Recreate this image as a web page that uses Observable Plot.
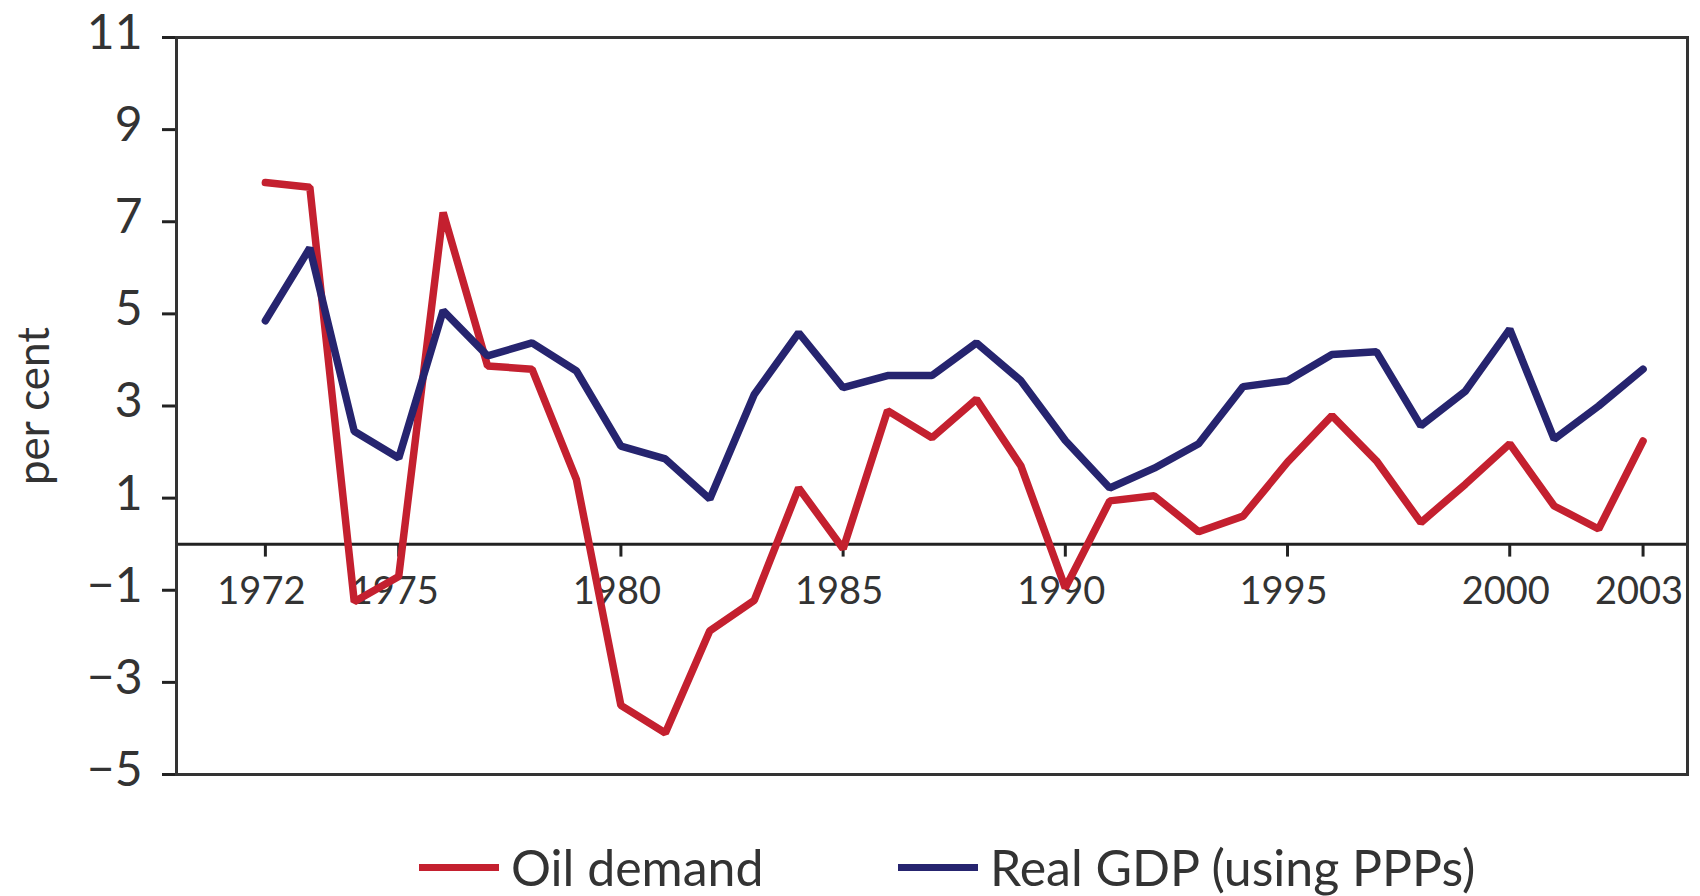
<!DOCTYPE html>
<html><head><meta charset="utf-8">
<script src="https://cdn.jsdelivr.net/npm/d3@7"></script>
<script src="https://cdn.jsdelivr.net/npm/@observablehq/plot@0.6"></script>
<style>
body{margin:0;background:#fff;font-family:Lato,"Open Sans",sans-serif;}
#wrap{position:relative;width:1700px;height:896px;overflow:hidden;background:#fff;}
#chart{position:absolute;left:0;top:0;}
.item{position:absolute;top:838px;height:58px;display:flex;align-items:center;font-size:50px;color:#333;white-space:nowrap;}
.sw{width:80px;height:7px;margin-right:12px;}
</style></head><body>
<div id="wrap"><div id="chart"></div><div id="legend"></div></div>
<script>
const years = [1972,1973,1974,1975,1976,1977,1978,1979,1980,1981,1982,1983,1984,1985,1986,1987,1988,1989,1990,1991,1992,1993,1994,1995,1996,1997,1998,1999,2000,2001,2002,2003];
const oilDemand = [7.85,7.75,-1.25,-0.7,7.2,3.87,3.8,1.4,-3.5,-4.1,-1.88,-1.22,1.22,-0.1,2.9,2.31,3.15,1.7,-0.95,0.94,1.05,0.27,0.61,1.78,2.79,1.81,0.47,1.3,2.18,0.83,0.33,2.24];
const realGDP = [4.85,6.43,2.45,1.87,5.07,4.09,4.37,3.76,2.13,1.85,0.98,3.25,4.59,3.4,3.66,3.66,4.37,3.55,2.25,1.22,1.65,2.18,3.42,3.55,4.12,4.18,2.57,3.32,4.67,2.28,3.0,3.8];
const seriesNames = ["Oil demand","Real GDP (using PPPs)"];
const seriesColors = ["#c4202f","#26246f"];
const xTicks = [1972,1975,1980,1985,1990,1995,2000,2003];
const yTicks = [-5,-3,-1,1,3,5,7,9,11];
const yLabel = "per cent";

const rows = years.flatMap((yr,i)=>[
  {year:yr,value:oilDemand[i],series:seriesNames[0]},
  {year:yr,value:realGDP[i],series:seriesNames[1]}
]);
const fmt = d => d < 0 ? "\u2212" + Math.abs(d) : String(d);

const chart = Plot.plot({
  width:1700, height:830,
  marginLeft:176, marginRight:13, marginTop:37, marginBottom:56,
  style:{fontFamily:"Lato, 'Open Sans', sans-serif", background:"#fff", overflow:"visible"},
  x:{domain:[1970,2004], axis:null},
  y:{domain:[-5,11]},
  color:{domain:seriesNames, range:seriesColors},
  marks:[
    Plot.ruleY([0],{stroke:"#222",strokeWidth:3}),
    Plot.ruleX(xTicks,{x:d=>d,y1:0,y2:-0.28,stroke:"#222",strokeWidth:3}),
    Plot.text(xTicks,{x:d=>d,y:0,dy:48,dx:-4,text:d=>String(d),fontSize:38,fill:"#333"}),
    Plot.axisY(yTicks,{tickSize:14,fill:"none",stroke:"#222",strokeWidth:3,label:null}),
    Plot.axisY(yTicks,{tickSize:14,tickPadding:20,stroke:"none",fill:"#333",fontSize:48,dy:-4,tickFormat:fmt,label:null}),
    Plot.text([yLabel],{frameAnchor:"left",dx:-142,rotate:-90,textAnchor:"middle",fontSize:44,fill:"#333"}),
    Plot.line(rows.filter(d=>d.series===seriesNames[0]),{x:"year",y:"value",stroke:"series",strokeWidth:7.5,strokeLinejoin:"miter"}),
    Plot.line(rows.filter(d=>d.series===seriesNames[1]),{x:"year",y:"value",stroke:"series",strokeWidth:7.5,strokeLinejoin:"miter"}),
    Plot.frame({stroke:"#333",strokeWidth:3})
  ]
});
document.getElementById("chart").appendChild(chart);

const legendLeft = [419, 898];
const legend = document.getElementById("legend");
seriesNames.forEach((name,i)=>{
  const item = document.createElement("div");
  item.className = "item";
  item.style.left = legendLeft[i] + "px";
  const sw = document.createElement("div");
  sw.className = "sw";
  sw.style.background = seriesColors[i];
  const tx = document.createElement("span");
  tx.textContent = name;
  item.appendChild(sw); item.appendChild(tx);
  legend.appendChild(item);
});
</script>
</body></html>
